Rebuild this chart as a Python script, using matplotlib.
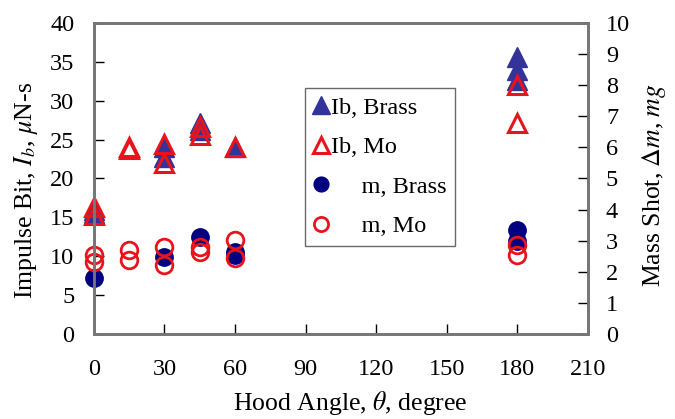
import numpy as np
import matplotlib.pyplot as plt

plt.rcParams['font.family'] = ['Liberation Serif', 'DejaVu Serif']
plt.rcParams['mathtext.fontset'] = 'stix'

# impulse bit data (left axis)
ib_brass_x = [0, 0, 30, 30, 45, 45, 60, 180, 180, 180]
ib_brass_y = [15.5, 15.9, 24.0, 22.8, 27.1, 26.2, 24.0, 35.6, 34.0, 32.7]
ib_mo_x = [0, 0, 15, 15, 30, 30, 45, 45, 60, 180, 180]
ib_mo_y = [16.3, 15.3, 24.0, 23.8, 24.5, 22.0, 26.6, 25.6, 24.0, 32.0, 27.1]

# mass shot data (right axis)
m_brass_x = [0, 30, 45, 60, 60, 180, 180]
m_brass_y = [1.8, 2.48, 3.12, 2.64, 2.54, 3.34, 3.0]
m_mo_x = [0, 0, 15, 15, 30, 30, 45, 45, 60, 60, 180, 180]
m_mo_y = [2.54, 2.32, 2.7, 2.38, 2.8, 2.22, 2.8, 2.64, 3.02, 2.44, 2.86, 2.54]

fig = plt.figure(figsize=(6.75, 4.19), dpi=100)
ax = fig.add_axes([0.139, 0.203, 0.732, 0.742])
ax2 = ax.twinx()

blue_tri = '#333399'
navy = '#000080'
red = '#e8141c'

h1, = ax.plot(ib_brass_x, ib_brass_y, '^', color=blue_tri, ms=15, ls='none', clip_on=False)
h2, = ax.plot(ib_mo_x, ib_mo_y, '^', mfc='none', mec=red, mew=2.2, ms=13.5, ls='none', clip_on=False)
h3, = ax2.plot(m_brass_x, m_brass_y, 'o', color=navy, ms=12.5, ls='none', clip_on=False)
h4, = ax2.plot(m_mo_x, m_mo_y, 'o', mfc='none', mec=red, mew=2, ms=12, ls='none', clip_on=False)

ax.set_xlim(0, 210)
ax.set_ylim(0, 40)
ax2.set_ylim(0, 10)
ax.set_xticks(np.arange(0, 211, 30))
ax.set_yticks(np.arange(0, 41, 5))
ax2.set_yticks(np.arange(0, 11, 1))

for a in (ax, ax2):
    for s in a.spines.values():
        s.set_color('#777777')
        s.set_linewidth(2)
ax.tick_params(axis='both', direction='in', length=7, width=1, labelsize=17.5)
ax.tick_params(axis='x', pad=18)
ax.tick_params(axis='y', pad=14)
ax2.tick_params(axis='y', direction='in', length=7, width=1, labelsize=17.5, pad=13)

ax.set_xlabel(r'Hood Angle, $\mathit{\theta}$, degree', fontsize=18.5)
ax.set_ylabel(r'Impulse Bit, $\mathit{I_b}$, $\mathit{\mu}$N-s', fontsize=18.5)
ax2.set_ylabel(r'Mass Shot, $\mathit{\Delta m}$, $\mathit{mg}$', fontsize=18.5)
ax.xaxis.set_label_coords(0.518, -0.178)
ax.yaxis.set_label_coords(-0.108, 0.46)
ax2.yaxis.set_label_coords(1.105, 0.48)

leg = ax2.legend([h1, h2, h3, h4], ['Ib, Brass', 'Ib, Mo', '     m, Brass', '     m, Mo'],
                 loc='upper left', bbox_to_anchor=(0.428, 0.79), fontsize=17.5,
                 frameon=True, fancybox=False, edgecolor='#444444',
                 handlelength=0.6, handletextpad=0.1, labelspacing=0.72,
                 borderpad=0.35, borderaxespad=0, markerscale=0.85)
leg.get_frame().set_linewidth(1)

fig.savefig('out.png', dpi=100)
